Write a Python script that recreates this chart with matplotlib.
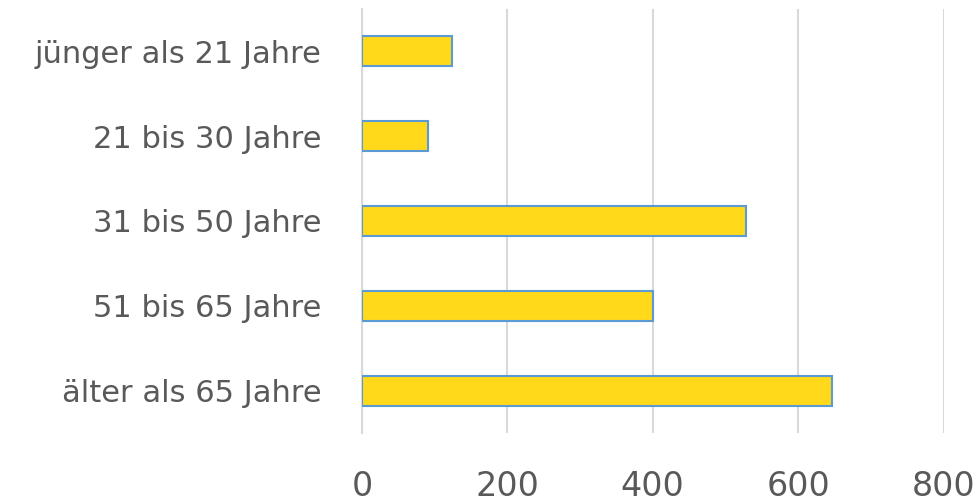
import matplotlib
matplotlib.use("Agg")
import matplotlib.pyplot as plt

categories = ["jünger als 21 Jahre", "21 bis 30 Jahre", "31 bis 50 Jahre", "51 bis 65 Jahre", "älter als 65 Jahre"]
values = [124, 91, 528, 400, 646]
xticks = [0, 200, 400, 600, 800]

plt.rcParams['font.family'] = ['DejaVu Sans']

fig = plt.figure(figsize=(9.79, 5.04), dpi=100)
ax = fig.add_axes([362/979, 1-433/504, (943.5-362)/979, (433-9)/504])

pos = list(range(len(categories)))
ax.barh(pos, values, height=0.354, color="#FFD91A", edgecolor="#5B9BD5", linewidth=1.5, zorder=3)
ax.set_ylim(len(categories)-0.5, -0.5)
ax.set_xlim(0, 800)
ax.set_xticks(xticks)
ax.set_xticklabels([str(t) for t in xticks])
ax.set_yticks(pos)
ax.set_yticklabels(categories)
ax.xaxis.grid(True, color="#D9D9D9", linewidth=1.5, zorder=0)
for s in ["top", "right", "bottom"]:
    ax.spines[s].set_visible(False)
ax.spines["left"].set_color("#D9D9D9")
ax.spines["left"].set_linewidth(1.5)
ax.tick_params(axis="both", length=0, colors="#595959")
ax.tick_params(axis="y", labelsize=22, pad=29)
ax.tick_params(axis="x", labelsize=24, pad=27)

fig.savefig("out.png", dpi=100)
